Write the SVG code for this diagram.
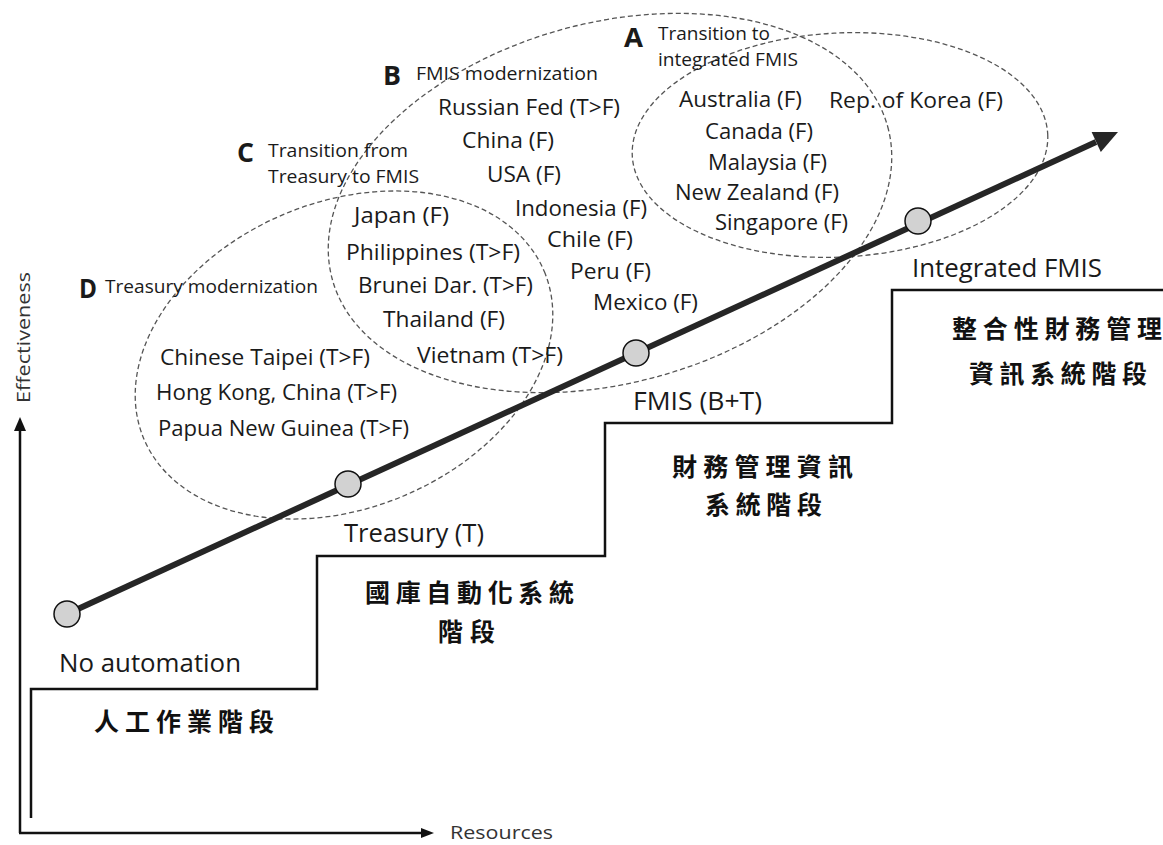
<svg xmlns="http://www.w3.org/2000/svg" width="1163" height="845" viewBox="0 0 1163 845">
  <style>
    .bg { fill: #ffffff; }
    .zone { fill: none; stroke: #555; stroke-width: 1.3; stroke-dasharray: 5 3; }
    .axis { stroke: #111; stroke-width: 2.5; fill: none; }
    .head { fill: #111; }
    .steps { stroke: #111; stroke-width: 2.5; fill: none; }
    .path { stroke: #262626; stroke-width: 6; fill: none; }
    .mile { fill: #d2d2d2; stroke: #111; stroke-width: 1.5; }
    text { font-family: 'Open Sans', 'Liberation Sans', sans-serif; fill: #1a1a1a; }
    .ctry { font-size: 21px; }
    .cap { font-size: 19px; }
    .ltr { font-size: 27px; font-weight: 700; }
    .stage { font-size: 25px; }
    .axlbl { font-size: 19px; fill: #333; }
    .zh { font-family: 'Noto Sans CJK TC', 'Noto Sans CJK SC', sans-serif; font-size: 25px; font-weight: 700; fill: #111; }
  </style>

  <rect class="bg" x="0" y="0" width="1163" height="845"/>

  <!-- dashed grouping zones -->
  <g id="zones">
    <ellipse id="zone-d" class="zone" cx="344" cy="355" rx="217" ry="153" transform="rotate(-22.6 344 355)"/>
    <ellipse id="zone-b" class="zone" cx="610" cy="203" rx="288" ry="180" transform="rotate(-15.4 610 203)"/>
    <ellipse id="zone-a" class="zone" cx="840" cy="145" rx="208" ry="112" transform="rotate(-3 840 145)"/>
  </g>

  <!-- axes -->
  <g id="axes">
    <path class="axis" d="M20,833 V428"/>
    <polygon class="head" points="20,417 14,431 26,431"/>
    <path class="axis" d="M19,833 H424"/>
    <polygon class="head" points="434,833 421,828 421,838"/>
    <text class="axlbl" x="450" y="839" textLength="103" lengthAdjust="spacingAndGlyphs">Resources</text>
    <text class="axlbl" transform="translate(30,403) rotate(-90)" textLength="131" lengthAdjust="spacingAndGlyphs">Effectiveness</text>
  </g>

  <!-- staircase of stages -->
  <g id="staircase">
    <path class="steps" d="M31,818 V689 H317 V556 H605 V423 H892 V290 H1163"/>
  </g>

  <!-- progression arrow -->
  <g id="connectors">
    <path class="path" d="M67,614 L1096,142"/>
    <polygon fill="#262626" points="1118,132 1091.6,132 1100.8,152"/>
  </g>

  <!-- stages -->
  <g id="stage-none">
    <circle class="mile" cx="67" cy="614" r="13"/>
    <text class="stage" x="59" y="672" textLength="182" lengthAdjust="spacingAndGlyphs">No automation</text>
    <text class="zh" y="731" x="94 125 156 187 218 249">人工作業階段</text>
  </g>
  <g id="stage-treasury">
    <circle class="mile" cx="348" cy="484" r="13"/>
    <text class="stage" x="344" y="542" textLength="140" lengthAdjust="spacingAndGlyphs">Treasury (T)</text>
    <text class="zh" y="602" x="365 395.7 426.3 457 487.7 518.3 549">國庫自動化系統</text>
    <text class="zh" y="641" x="438 470">階段</text>
  </g>
  <g id="stage-fmis">
    <circle class="mile" cx="636" cy="353" r="13"/>
    <text class="stage" x="633" y="410" textLength="129" lengthAdjust="spacingAndGlyphs">FMIS (B+T)</text>
    <text class="zh" y="476" x="672 703.2 734.4 765.6 796.8 828">財務管理資訊</text>
    <text class="zh" y="514" x="705 735.7 766.3 797">系統階段</text>
  </g>
  <g id="stage-integrated">
    <circle class="mile" cx="918" cy="221" r="13"/>
    <text class="stage" x="912" y="277" textLength="190" lengthAdjust="spacingAndGlyphs">Integrated FMIS</text>
    <text class="zh" y="338" x="952 982.8 1013.7 1044.5 1075.3 1106.2 1137">整合性財務管理</text>
    <text class="zh" y="383" x="969 999.6 1030.2 1060.8 1091.4 1122">資訊系統階段</text>
  </g>

  <!-- A: transition to integrated FMIS -->
  <g id="group-a">
    <text class="ltr" x="624" y="47" textLength="19" lengthAdjust="spacingAndGlyphs">A</text>
    <text class="cap" x="658" y="40" textLength="112" lengthAdjust="spacingAndGlyphs">Transition to</text>
    <text class="cap" x="658" y="66" textLength="140" lengthAdjust="spacingAndGlyphs">integrated FMIS</text>
    <text class="ctry" x="679" y="107" textLength="123" lengthAdjust="spacingAndGlyphs">Australia (F)</text>
    <text class="ctry" x="829" y="108" textLength="174" lengthAdjust="spacingAndGlyphs">Rep. of Korea (F)</text>
    <text class="ctry" x="705" y="139" textLength="108" lengthAdjust="spacingAndGlyphs">Canada (F)</text>
    <text class="ctry" x="708" y="170" textLength="119" lengthAdjust="spacingAndGlyphs">Malaysia (F)</text>
    <text class="ctry" x="675" y="200" textLength="164" lengthAdjust="spacingAndGlyphs">New Zealand (F)</text>
    <text class="ctry" x="715" y="230" textLength="133" lengthAdjust="spacingAndGlyphs">Singapore (F)</text>
  </g>

  <!-- B: FMIS modernization -->
  <g id="group-b">
    <text class="ltr" x="383" y="85" textLength="18" lengthAdjust="spacingAndGlyphs">B</text>
    <text class="cap" x="416" y="80" textLength="182" lengthAdjust="spacingAndGlyphs">FMIS modernization</text>
    <text class="ctry" x="438" y="115" textLength="182" lengthAdjust="spacingAndGlyphs">Russian Fed (T&gt;F)</text>
    <text class="ctry" x="462" y="148" textLength="92" lengthAdjust="spacingAndGlyphs">China (F)</text>
    <text class="ctry" x="487" y="182" textLength="74" lengthAdjust="spacingAndGlyphs">USA (F)</text>
    <text class="ctry" x="515" y="216" textLength="132" lengthAdjust="spacingAndGlyphs">Indonesia (F)</text>
    <text class="ctry" x="547" y="247" textLength="86" lengthAdjust="spacingAndGlyphs">Chile (F)</text>
    <text class="ctry" x="570" y="279" textLength="81" lengthAdjust="spacingAndGlyphs">Peru (F)</text>
    <text class="ctry" x="593" y="310" textLength="105" lengthAdjust="spacingAndGlyphs">Mexico (F)</text>
  </g>

  <!-- C: transition from Treasury to FMIS -->
  <g id="group-c">
    <text class="ltr" x="237" y="162" textLength="17" lengthAdjust="spacingAndGlyphs">C</text>
    <text class="cap" x="268" y="157" textLength="140" lengthAdjust="spacingAndGlyphs">Transition from</text>
    <text class="cap" x="268" y="183" textLength="151" lengthAdjust="spacingAndGlyphs">Treasury to FMIS</text>
    <text class="ctry" x="354" y="223" textLength="95" lengthAdjust="spacingAndGlyphs">Japan (F)</text>
    <text class="ctry" x="346" y="260" textLength="174" lengthAdjust="spacingAndGlyphs">Philippines (T&gt;F)</text>
    <text class="ctry" x="358" y="293" textLength="175" lengthAdjust="spacingAndGlyphs">Brunei Dar. (T&gt;F)</text>
    <text class="ctry" x="383" y="327" textLength="122" lengthAdjust="spacingAndGlyphs">Thailand (F)</text>
    <text class="ctry" x="417" y="363" textLength="146" lengthAdjust="spacingAndGlyphs">Vietnam (T&gt;F)</text>
  </g>

  <!-- D: Treasury modernization -->
  <g id="group-d">
    <text class="ltr" x="79" y="298" textLength="18" lengthAdjust="spacingAndGlyphs">D</text>
    <text class="cap" x="105" y="293" textLength="213" lengthAdjust="spacingAndGlyphs">Treasury modernization</text>
    <text class="ctry" x="160" y="365" textLength="210" lengthAdjust="spacingAndGlyphs">Chinese Taipei (T&gt;F)</text>
    <text class="ctry" x="156" y="400" textLength="241" lengthAdjust="spacingAndGlyphs">Hong Kong, China (T&gt;F)</text>
    <text class="ctry" x="158" y="436" textLength="251" lengthAdjust="spacingAndGlyphs">Papua New Guinea (T&gt;F)</text>
  </g>
</svg>
